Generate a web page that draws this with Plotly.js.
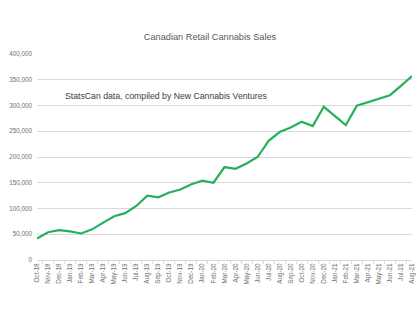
<!DOCTYPE html>
<html>
<head>
<meta charset="utf-8">
<script src="https://cdn.plot.ly/plotly-3.0.1.min.js"></script>
<style>html,body{margin:0;padding:0;background:#fff;}#chart{width:420px;height:322px;}</style>
</head>
<body>
<div id="chart"></div>
<script>
const months = ["Oct-18","Nov-18","Dec-18","Jan-19","Feb-19","Mar-19","Apr-19","May-19","Jun-19","Jul-19","Aug-19","Sep-19","Oct-19","Nov-19","Dec-19","Jan-20","Feb-20","Mar-20","Apr-20","May-20","Jun-20","Jul-20","Aug-20","Sep-20","Oct-20","Nov-20","Dec-20","Jan-21","Feb-21","Mar-21","Apr-21","May-21","Jun-21","Jul-21","Aug-21"];
const sales = [41500,54000,58000,55600,51500,59500,72500,85000,91000,105000,125000,121700,131000,137000,147000,154000,150000,180500,177000,187500,200000,231500,248500,257500,268500,260000,297500,280000,262000,299500,306000,313000,320000,338000,357000];
const yTicks = [0,50000,100000,150000,200000,250000,300000,350000,400000];
const yTickText = ["0","50,000","100,000","150,000","200,000","250,000","300,000","350,000","400,000"];
const chartTitle = "Canadian Retail Cannabis Sales";
const note = "StatsCan data, compiled by New Cannabis Ventures";

Plotly.newPlot("chart", [{
  x: months, y: sales, type: "scatter", mode: "lines",
  line: {color: "#27B05C", width: 2.2}, hoverinfo: "none"
}], {
  width: 420, height: 322,
  margin: {l: 37, r: 8, t: 54, b: 62},
  paper_bgcolor: "#fff", plot_bgcolor: "#fff",
  showlegend: false,
  title: {text: chartTitle, x: 0.5, xanchor: "center", y: 0.885, yanchor: "middle",
    font: {family: "Liberation Sans", size: 9.2, color: "#595959"}},
  xaxis: {type: "category", tickangle: -90, tickfont: {family: "Liberation Sans", size: 6.3, color: "#707070"},
    showgrid: false, showline: true, linecolor: "#d9d9d9", linewidth: 1,
    ticks: "outside", tickson: "boundaries", ticklen: 3, tickcolor: "#d9d9d9", fixedrange: true},
  yaxis: {range: [0, 400000], tickvals: yTicks, ticktext: yTickText,
    tickfont: {family: "Liberation Sans", size: 6.3, color: "#707070"},
    showgrid: true, gridcolor: "#d9d9d9", gridwidth: 1, zeroline: false, showline: false,
    ticks: "", ticklabelstandoff: 4, fixedrange: true},
  annotations: [{text: note, xref: "paper", yref: "paper", x: 0.07, y: 0.795,
    xanchor: "left", yanchor: "middle", showarrow: false,
    font: {family: "Liberation Sans", size: 8.7, color: "#404040"}}]
}, {displayModeBar: false, staticPlot: true});
</script>
</body>
</html>
